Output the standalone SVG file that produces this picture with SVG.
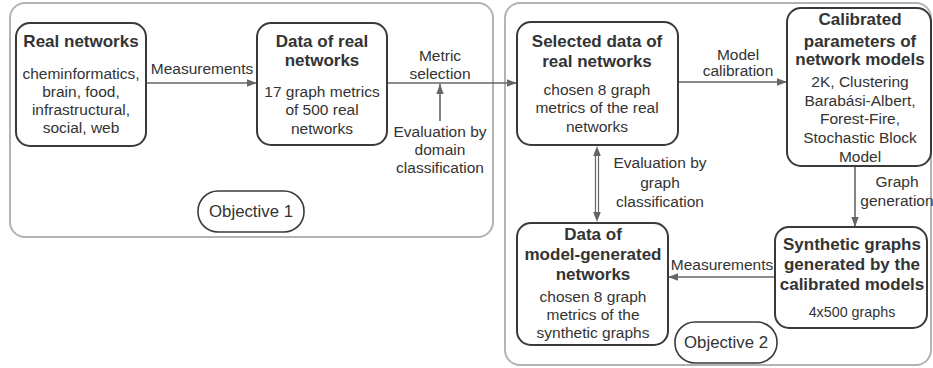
<svg xmlns="http://www.w3.org/2000/svg" width="933" height="368" viewBox="0 0 933 368">
<defs>
<style>
.frame{fill:none;stroke:#b3b3b3;stroke-width:2}
.node{fill:#fff;stroke:#3a3a3a;stroke-width:2}
.pill{fill:#fff;stroke:#3a3a3a;stroke-width:1.6}
text{font-family:"Liberation Sans",Arial,sans-serif;fill:#333;text-anchor:middle}
.t{font-size:17px;font-weight:bold}
.b{font-size:15.5px}
.s{font-size:14.3px}
.o{font-size:16.8px}
.l{font-size:15.5px}
.c{stroke:#666;stroke-width:1.6;fill:none}
.d{stroke:#666;stroke-width:1.2;fill:none}
.h{fill:#666}
</style>
<marker id="ah" viewBox="0 0 10 10" refX="10" refY="5" markerWidth="10" markerHeight="10" orient="auto" markerUnits="userSpaceOnUse">
<path d="M0,1.3 L10,5 L0,8.7 z" fill="#666"/>
</marker>
</defs>
<rect class="frame" x="10" y="3" width="483" height="234" rx="15"/>
<rect class="frame" x="505" y="3" width="426" height="362" rx="15"/>
<g id="connectors">
<line class="c" x1="146" y1="83" x2="257" y2="83" marker-end="url(#ah)"/>
<line class="c" x1="387" y1="83" x2="517" y2="83" marker-end="url(#ah)"/>
<line class="c" x1="440" y1="121" x2="440" y2="84" marker-end="url(#ah)"/>
<line class="c" x1="678" y1="82" x2="787" y2="82" marker-end="url(#ah)"/>
<line class="c" x1="855" y1="166" x2="855" y2="227" marker-end="url(#ah)"/>
<line class="d" x1="595.5" y1="152" x2="595.5" y2="216"/>
<line class="d" x1="598.5" y1="152" x2="598.5" y2="216"/>
<path class="h" d="M597,146 L600.8,156 L593.2,156 z"/>
<path class="h" d="M597,222 L600.8,212 L593.2,212 z"/>
<line class="c" x1="775" y1="277" x2="668" y2="277" marker-end="url(#ah)"/>
<text class="l" x="202" y="74">Measurements</text>
<text class="l" x="440" y="61">Metric</text>
<text class="l" x="440" y="79">selection</text>
<text class="l" x="440" y="137">Evaluation by</text>
<text class="l" x="440" y="155">domain</text>
<text class="l" x="440" y="173">classification</text>
<text class="l" x="738" y="60">Model</text>
<text class="l" x="738" y="76">calibration</text>
<text class="l" x="660" y="168">Evaluation by</text>
<text class="l" x="660" y="188">graph</text>
<text class="l" x="660" y="207">classification</text>
<text class="l" x="897" y="187">Graph</text>
<text class="l" x="897" y="206">generation</text>
<text class="l" x="722" y="270">Measurements</text>
</g>
<g id="real-networks">
<rect class="node" x="16" y="23" width="130" height="123" rx="14"/>
<text class="t" x="81" y="47">Real networks</text>
<text class="b" x="81" y="79">cheminformatics,</text>
<text class="b" x="81" y="97">brain, food,</text>
<text class="b" x="81" y="115">infrastructural,</text>
<text class="b" x="81" y="133">social, web</text>
</g>
<g id="data-real">
<rect class="node" x="257" y="23" width="130" height="122" rx="14"/>
<text class="t" x="322" y="47">Data of real</text>
<text class="t" x="322" y="66">networks</text>
<text class="b" x="322" y="97">17 graph metrics</text>
<text class="b" x="322" y="115">of 500 real</text>
<text class="b" x="322" y="134">networks</text>
</g>
<g id="objective-1">
<rect class="pill" x="198" y="191" width="106" height="41" rx="20"/>
<text class="o" x="251" y="217">Objective 1</text>
</g>
<g id="selected-data">
<rect class="node" x="517" y="22" width="161" height="123" rx="14"/>
<text class="t" x="597" y="47">Selected data of</text>
<text class="t" x="597" y="67">real networks</text>
<text class="b" x="597" y="95">chosen 8 graph</text>
<text class="b" x="597" y="113">metrics of the real</text>
<text class="b" x="597" y="132">networks</text>
</g>
<g id="calibrated">
<rect class="node" x="787" y="8" width="144" height="158" rx="14"/>
<text class="t" x="860" y="25">Calibrated</text>
<text class="t" x="860" y="47">parameters of</text>
<text class="t" x="860" y="65">network models</text>
<text class="b" x="860" y="87">2K, Clustering</text>
<text class="b" x="860" y="106">Barabási-Albert,</text>
<text class="b" x="860" y="124">Forest-Fire,</text>
<text class="b" x="860" y="143">Stochastic Block</text>
<text class="b" x="860" y="162">Model</text>
</g>
<g id="model-generated">
<rect class="node" x="517" y="223" width="151" height="122" rx="14"/>
<text class="t" x="593" y="240">Data of</text>
<text class="t" x="593" y="260">model-generated</text>
<text class="t" x="593" y="280">networks</text>
<text class="b" x="593" y="302">chosen 8 graph</text>
<text class="b" x="593" y="320">metrics of the</text>
<text class="b" x="593" y="338">synthetic graphs</text>
</g>
<g id="synthetic">
<rect class="node" x="775" y="227" width="152" height="101" rx="14"/>
<text class="t" x="852" y="250">Synthetic graphs</text>
<text class="t" x="852" y="270">generated by the</text>
<text class="t" x="852" y="290">calibrated models</text>
<text class="s" x="852" y="317">4x500 graphs</text>
</g>
<g id="objective-2">
<rect class="pill" x="675" y="322" width="102" height="41" rx="20"/>
<text class="o" x="726" y="348">Objective 2</text>
</g>
</svg>
